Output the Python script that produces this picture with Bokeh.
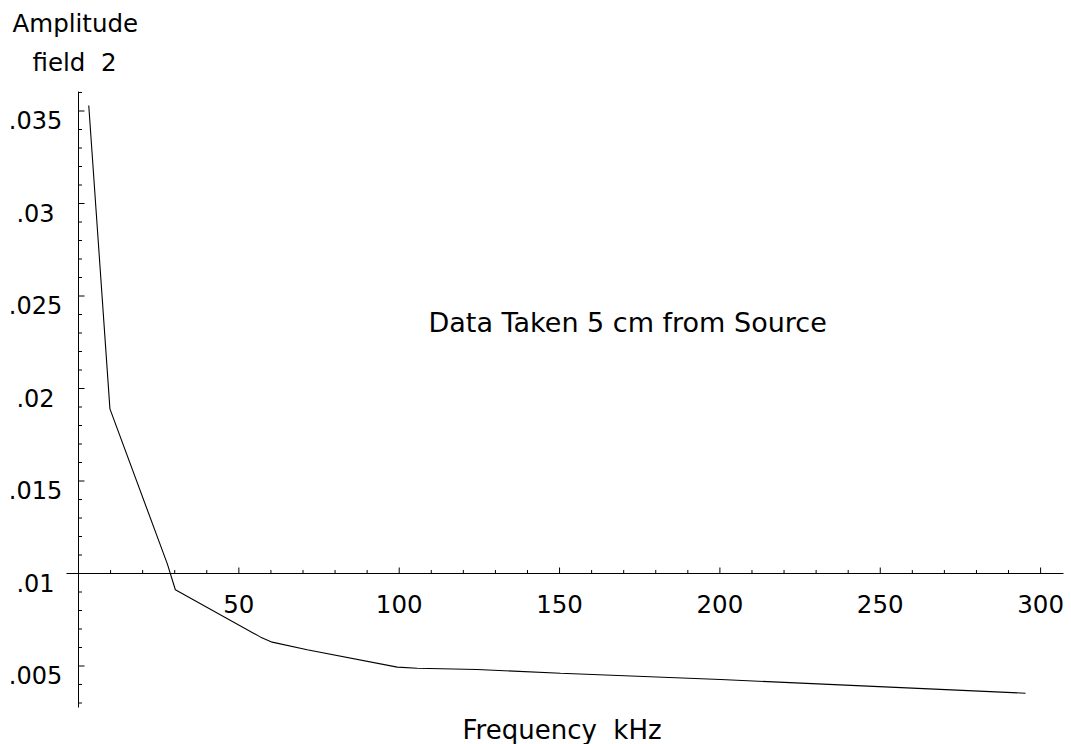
import numpy as np
from bokeh.plotting import figure
from bokeh.models import Range1d
from bokeh.core.properties import value
from bokeh.embed import file_html
from bokeh.resources import INLINE

# ---- data ----
freq_khz = [3.2, 9.8, 27.7, 30.2, 56.8, 60.4, 71.3, 99.4, 105.6, 124.3, 150.3, 200.2, 295.3]
amplitude = [0.0353, 0.0189, 0.01052, 0.00912, 0.00656, 0.00629, 0.00588,
             0.00494, 0.00488, 0.00481, 0.00461, 0.00427, 0.00353]

x_tick_values = [50, 100, 150, 200, 250, 300]
x_tick_labels = ["50", "100", "150", "200", "250", "300"]
y_tick_values = [0.005, 0.01, 0.015, 0.02, 0.025, 0.03, 0.035]
y_tick_labels = [".005", ".01", ".015", ".02", ".025", ".03", ".035"]

# ---- layout (pixel geometry of the frame) ----
W, H = 1071, 744
X0PX, XS = 78.0, 3.207      # pixel of x=0, px per kHz
Y10PX, YS = 573.0, 18500.0  # pixel of y=0.01, px per unit

def dx(px):
    return (px - X0PX) / XS

def dy(py):
    return 0.01 + (Y10PX - py) / YS

FONT = value("DejaVu Sans")
NB = "\u00a0"

p = figure(width=W, height=H, output_backend="svg", toolbar_location=None,
           x_axis_location=None, y_axis_location=None,
           x_range=Range1d(dx(0), dx(W)), y_range=Range1d(dy(H), dy(0)),
           min_border=0, outline_line_color=None,
           background_fill_color="white", border_fill_color="white")
p.xgrid.visible = False
p.ygrid.visible = False

# axes (crossing at x=0, y=0.01)
p.segment(x0=[0], y0=[dy(707)], x1=[0], y1=[dy(91)], line_color="black", line_width=1)
p.segment(x0=[dx(66)], y0=[0.01], x1=[dx(1063)], y1=[0.01], line_color="black", line_width=1)

# ticks
y_minor = [v for v in np.round(np.arange(0.003, 0.0361, 0.001), 4) if round(v * 1000) % 5 != 0]
x_minor = [v for v in range(10, 301, 10) if v % 50 != 0]
p.ray(x=[0] * len(y_tick_values), y=y_tick_values, length=6, length_units="screen",
      angle=0, line_color="black", line_width=1)
p.ray(x=[0] * len(y_minor), y=y_minor, length=3.5, length_units="screen",
      angle=0, line_color="black", line_width=1)
p.ray(x=x_tick_values, y=[0.01] * len(x_tick_values), length=6, length_units="screen",
      angle=np.pi / 2, line_color="black", line_width=1)
p.ray(x=x_minor, y=[0.01] * len(x_minor), length=3.5, length_units="screen",
      angle=np.pi / 2, line_color="black", line_width=1)

# tick labels
p.text(x=[0] * len(y_tick_values), y=y_tick_values, text=y_tick_labels,
       x_offset=-43, y_offset=9, text_align="center", text_baseline="alphabetic",
       text_font=FONT, text_font_size="24px", text_color="black")
p.text(x=x_tick_values, y=[0.01] * len(x_tick_values), text=x_tick_labels,
       x_offset=0, y_offset=30, text_align="center", text_baseline="alphabetic",
       text_font=FONT, text_font_size="24.5px", text_color="black")

# data line
p.line(freq_khz, amplitude, line_color="black", line_width=1.1)

# titles / annotation
p.text(x=[dx(12)], y=[dy(23)], text=["Amplitude"], text_align="left",
       text_baseline="alphabetic", text_font=FONT, text_font_size="24.5px", text_color="black")
p.text(x=[dx(32)], y=[dy(61.5)], text=["field" + NB + NB + "2"], text_align="left",
       text_baseline="alphabetic", text_font=FONT, text_font_size="24.5px", text_color="black")
p.text(x=[dx(462)], y=[dy(729)], text=["Frequency" + NB + NB + "kHz"], text_align="left",
       text_baseline="alphabetic", text_font=FONT, text_font_size="26px", text_color="black")
p.text(x=[dx(428)], y=[dy(321.5)], text=["Data Taken 5 cm from Source"], text_align="left",
       text_baseline="alphabetic", text_font=FONT, text_font_size="27px", text_color="black")

open("out.html", "w").write(file_html(p, INLINE))
